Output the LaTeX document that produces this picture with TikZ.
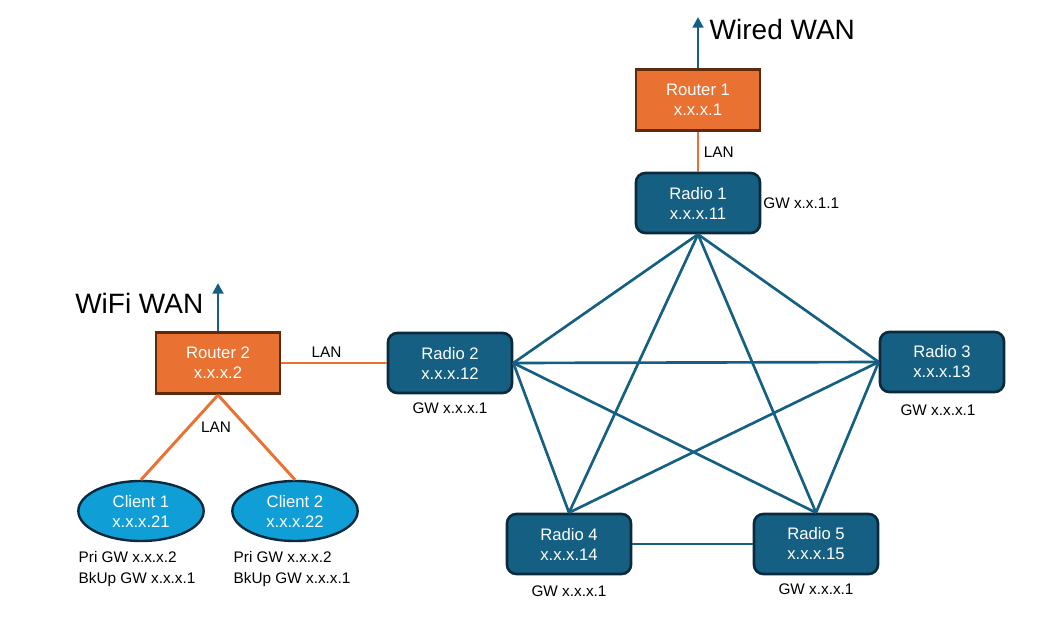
\documentclass[tikz,border=0pt]{standalone}
\usepackage{fontspec}
\setmainfont{Liberation Sans}
\usepackage{xcolor}
\usepackage{tikz}
\usetikzlibrary{shapes.geometric, arrows.meta, positioning}

\definecolor{routerorange}{HTML}{E97132}
\definecolor{routeredge}{HTML}{5E2A0C}
\definecolor{radioblue}{HTML}{156082}
\definecolor{radioedge}{HTML}{0C2A3E}
\definecolor{clientblue}{HTML}{0F9ED5}

\begin{document}
\begin{tikzpicture}[
    x=0.75pt, y=-0.75pt,
    node distance=4pt and 4pt,
    router/.style={rectangle, draw=routeredge, line width=2pt,
                   fill=routerorange, minimum width=93pt, minimum height=46pt,
                   text=white, font=\fontsize{12.5}{15}\selectfont, align=center},
    radio/.style={rectangle, draw=radioedge, line width=2pt,
                  rounded corners=7pt, fill=radioblue, minimum width=93pt,
                  minimum height=45pt, text=white,
                  font=\fontsize{12.5}{15}\selectfont, align=center},
    client/.style={ellipse, draw=radioedge, line width=1.8pt, fill=clientblue,
                   minimum width=94pt, minimum height=45pt, inner sep=0pt,
                   text=white, font=\fontsize{12.5}{15}\selectfont, align=center},
    lan/.style={routerorange, line width=2.2pt},
    mesh/.style={radioblue, line width=2pt},
    wan/.style={-{Triangle[length=8pt,width=8pt]}, radioblue, line width=2pt},
    gw/.style={text=black, font=\fontsize{11.5}{15.5}\selectfont, align=left},
    big/.style={text=black, font=\fontsize{21}{24}\selectfont},
]
\useasboundingbox (0,0) rectangle (1053,638);

% ── Routers ──
\node[router] (router1) at (698,100) {Router 1\\x.x.x.1};
\node[router] (router2) at (218,363) {Router 2\\x.x.x.2};

% ── Radio mesh ──
\node[radio] (radio1) at (698,203) {Radio 1\\x.x.x.11};
\node[radio] (radio2) at (450,363) {Radio 2\\x.x.x.12};
\node[radio] (radio3) at (942,362) {Radio 3\\x.x.x.13};
\node[radio] (radio4) at (569,544) {Radio 4\\x.x.x.14};
\node[radio] (radio5) at (816,544) {Radio 5\\x.x.x.15};

% ── Clients ──
\node[client] (client1) at (141,511) {Client 1\\x.x.x.21};
\node[client] (client2) at (295,511) {Client 2\\x.x.x.22};

% ── WAN uplinks ──
\coordinate (wired) at (698,17);
\coordinate (wifi) at (218,283);
\draw[wan] (router1) -- (wired);
\draw[wan] (router2) -- (wifi);
\node[big, anchor=west] (wiredlbl) at (705,29) {Wired WAN};
\node[big, anchor=east] (wifilbl) at (208,303) {WiFi WAN};

% ── LAN links ──
\draw[lan] (router1) -- node[gw, right] (lan1) {LAN} (radio1);
\draw[lan] (router2) -- node[gw, above, pos=0.43] (lan2) {LAN} (radio2);
\draw[lan] (router2.south) -- (client1.north);
\draw[lan] (router2.south) -- (client2.north);
\node[gw] (lan3) at (216,427) {LAN};

% ── Mesh links ──
\draw[mesh] (radio1.south) -- (radio2.east);
\draw[mesh] (radio1.south) -- (radio3.west);
\draw[mesh] (radio1.south) -- (radio4.north);
\draw[mesh] (radio1.south) -- (radio5.north);
\draw[mesh] (radio2.east) -- (radio3.west);
\draw[mesh] (radio2.east) -- (radio4.north);
\draw[mesh] (radio2.east) -- (radio5.north);
\draw[mesh] (radio3.west) -- (radio4.north);
\draw[mesh] (radio3.west) -- (radio5.north);
\draw[mesh] (radio4.east) -- (radio5.west);

% ── Gateway labels ──
\node[gw, right=-2pt of radio1] (gw1) {GW x.x.1.1};
\node[gw, below=3pt of radio2] (gw2) {GW x.x.x.1};
\node[gw, below=5pt of radio3, xshift=-3pt] (gw3) {GW x.x.x.1};
\node[gw, below=4.5pt of radio4] (gw4) {GW x.x.x.1};
\node[gw, below=3pt of radio5] (gw5) {GW x.x.x.1};
\node[gw, anchor=north west] (gwc1) at (74,547) {Pri GW x.x.x.2\\BkUp GW x.x.x.1};
\node[gw, anchor=north west] (gwc2) at (229,547) {Pri GW x.x.x.2\\BkUp GW x.x.x.1};

\end{tikzpicture}
\end{document}
